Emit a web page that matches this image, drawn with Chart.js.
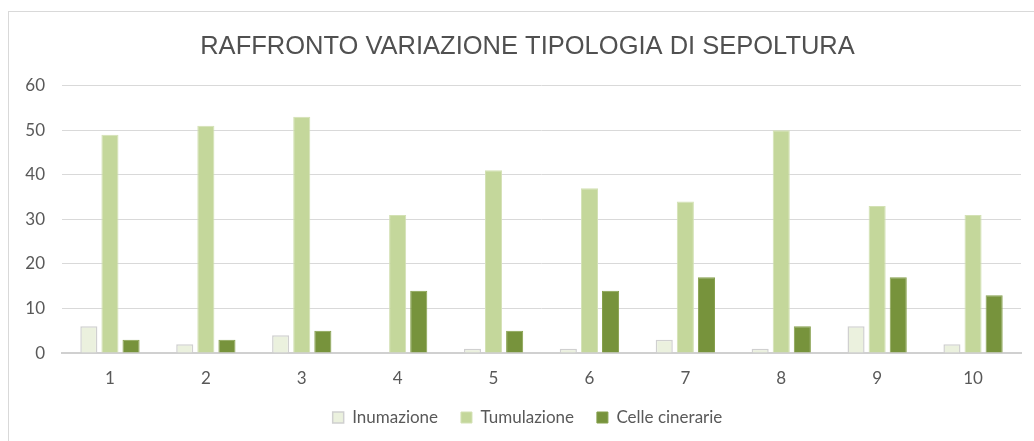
<!DOCTYPE html>
<html>
<head>
<meta charset="utf-8">
<script src="https://cdn.jsdelivr.net/npm/chart.js@4.4.0/dist/chart.umd.min.js"></script>
<style>
  html, body { margin: 0; padding: 0; background: #fff; overflow: hidden; }
  #cornice {
    position: absolute; left: 8px; top: 11px; width: 1040px; height: 440px;
    border: 1px solid #d9d9d9; box-sizing: border-box;
  }
  #wrap { position: absolute; left: 0; top: 0; width: 1034px; height: 441px; }
</style>
</head>
<body>
<div id="cornice"></div>
<div id="wrap"><canvas id="graficoSepolture"></canvas></div>
<script>
// dati
const anni = ["1", "2", "3", "4", "5", "6", "7", "8", "9", "10"];
const inumazione = [6, 2, 4, 0, 1, 1, 3, 1, 6, 2];
const tumulazione = [49, 51, 53, 31, 41, 37, 34, 50, 33, 31];
const celleCinerarie = [3, 3, 5, 14, 5, 14, 17, 6, 17, 13];
const tickY = [0, 10, 20, 30, 40, 50, 60];

const canvas = document.getElementById("graficoSepolture");
const ctx = canvas.getContext("2d");
const fontTesto = "Lato, 'Open Sans', sans-serif";

new Chart(ctx, {
    type: "bar",
    data: {
        labels: anni,
        datasets: [
            {
                label: "Inumazione",
                data: inumazione,
                backgroundColor: "#ebf1de",
                borderColor: "#d0d0d0",
                borderWidth: 1.5
            },
            {
                label: "Tumulazione",
                data: tumulazione,
                backgroundColor: "#c4d79b",
                borderColor: "#d3e1b4",
                borderWidth: 1
            },
            {
                label: "Celle cinerarie",
                data: celleCinerarie,
                backgroundColor: "#77933c",
                borderColor: "#86a04c",
                borderWidth: 1
            }
        ]
    },
    options: {
        responsive: true,
        maintainAspectRatio: false,
        animation: false,
        categoryPercentage: 0.66,
        barPercentage: 0.81,
        layout: { padding: { left: 21, right: 0, top: 0, bottom: 5 } },
        plugins: {
            title: {
                display: true,
                text: "RAFFRONTO VARIAZIONE TIPOLOGIA DI SEPOLTURA",
                color: "#505050",
                font: { family: "'Liberation Sans', sans-serif", size: 25.5, weight: "normal" },
                padding: { top: 32, bottom: 23 }
            },
            legend: {
                position: "bottom",
                labels: {
                    color: "#595959",
                    font: { family: fontTesto, size: 17 },
                    boxWidth: 11,
                    boxHeight: 11,
                    padding: 5.5,
                    // un po' più di spazio tra le voci
                    generateLabels: chart => {
                        const voci = Chart.defaults.plugins.legend.labels.generateLabels(chart);
                        voci.forEach((v, i) => { if (i < voci.length - 1) v.text += "    "; });
                        return voci;
                    }
                }
            },
            tooltip: { enabled: false }
        },
        scales: {
            x: {
                grid: { display: false, drawTicks: false },
                border: { color: "#d0d0d0", width: 2 },
                ticks: {
                    color: "#595959",
                    font: { family: fontTesto, size: 17 },
                    padding: 15
                }
            },
            y: {
                min: 0,
                max: 60,
                afterBuildTicks: axis => { axis.ticks = tickY.map(v => ({ value: v })); },
                afterFit: axis => { axis.width = 41; },
                grid: { color: "#d9d9d9", drawTicks: false },
                border: { display: false },
                ticks: {
                    color: "#595959",
                    font: { family: fontTesto, size: 17 },
                    padding: 17
                }
            },
            // asse vuoto a destra, solo per il margine
            y2: {
                position: "right",
                min: 0,
                max: 1,
                afterFit: axis => { axis.width = 13; },
                grid: { display: false, drawTicks: false },
                border: { display: false },
                ticks: { display: false }
            }
        }
    }
});
</script>
</body>
</html>
